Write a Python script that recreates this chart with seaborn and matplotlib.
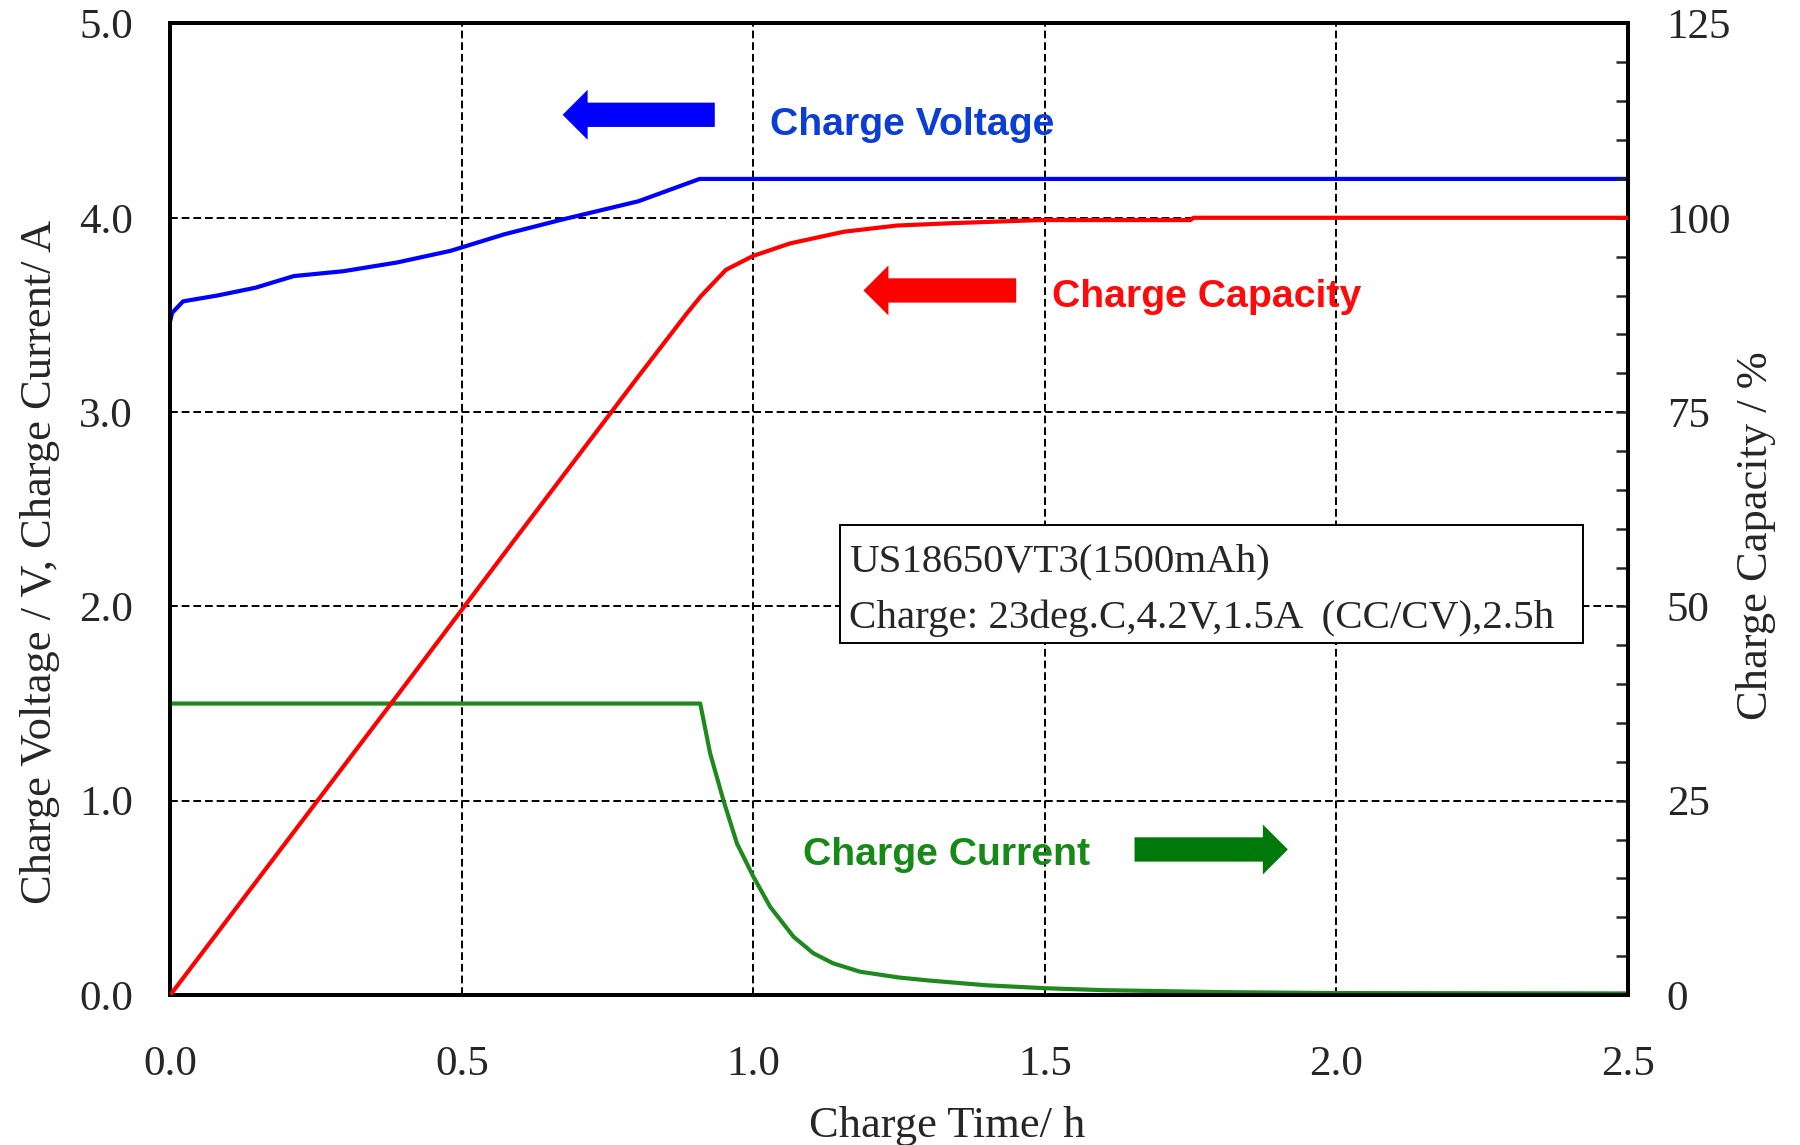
import matplotlib
matplotlib.use("Agg")
import matplotlib.pyplot as plt
import seaborn as sns
from matplotlib.patches import Rectangle
from matplotlib.ticker import MultipleLocator

# charge voltage (V) vs time (h)
volt_t = [0.0, 0.003, 0.022, 0.081, 0.146, 0.212, 0.297, 0.389, 0.481, 0.573, 0.671, 0.803, 0.908, 2.5]
volt_v = [3.47, 3.51, 3.57, 3.60, 3.64, 3.70, 3.725, 3.77, 3.83, 3.915, 3.99, 4.085, 4.20, 4.20]

# charge current (A) vs time (h)
curr_t = [0.0, 0.909, 0.926, 0.949, 0.972, 1.0, 1.029, 1.069, 1.103, 1.137, 1.183, 1.25,
          1.3, 1.4, 1.5, 1.6, 1.8, 2.0, 2.5]
curr_a = [1.5, 1.5, 1.244, 1.0, 0.78, 0.61, 0.454, 0.30, 0.215, 0.163, 0.12, 0.09,
          0.075, 0.05, 0.035, 0.025, 0.015, 0.01, 0.008]

# charge capacity (%) vs time (h)
cap_t = [0.0, 0.2, 0.4, 0.6, 0.8, 0.885, 0.91, 0.953, 1.0, 1.063, 1.155, 1.246, 1.339,
         1.49, 1.75, 1.755, 2.5]
cap_p = [0.0, 19.8, 39.6, 59.5, 79.3, 87.6, 89.9, 93.3, 95.1, 96.7, 98.2, 99.0, 99.3,
         99.7, 99.7, 100.0, 100.0]

x_ticks = [0.0, 0.5, 1.0, 1.5, 2.0, 2.5]
left_ticks = [0.0, 1.0, 2.0, 3.0, 4.0, 5.0]
right_ticks = [0, 25, 50, 75, 100, 125]

sns.set_style("white")
plt.rcParams['font.family'] = ['Liberation Serif', 'DejaVu Serif']

fig = plt.figure(figsize=(18, 11.45), dpi=100)
ax = fig.add_axes([0.0946, 0.1310, 0.8097, 0.8485])
ax2 = ax.twinx()

blue = '#0000FF'
red = '#FF0000'
green = '#1E8A1E'

sns.lineplot(x=volt_t, y=volt_v, ax=ax, color=blue, linewidth=3.0, zorder=4)
sns.lineplot(x=curr_t, y=curr_a, ax=ax, color=green, linewidth=3.0, zorder=4, clip_on=False)
sns.lineplot(x=cap_t, y=cap_p, ax=ax2, color=red, linewidth=3.0, zorder=4)

ax.set_xlim(0, 2.5)
ax.set_ylim(0, 5)
ax2.set_ylim(0, 125)

ax.set_xticks(x_ticks)
ax.set_xticklabels([f"{v:.1f}" for v in x_ticks])
ax.xaxis.set_minor_locator(MultipleLocator(0.1))
ax.set_yticks(left_ticks)
ax.set_yticklabels([f"{v:.1f}" for v in left_ticks])
ax2.set_yticks(right_ticks)
ax2.set_yticklabels([str(v) for v in right_ticks])
ax2.yaxis.set_minor_locator(MultipleLocator(5))

ax.tick_params(axis='x', which='both', direction='in', length=8, width=1.8,
               labelsize=31, pad=36, top=False)
ax.tick_params(axis='y', which='both', length=0, labelsize=31, pad=27)
ax2.tick_params(axis='y', which='both', direction='in', length=9, width=1.8,
                labelsize=31, pad=28)

ax.grid(True, which='major', color='black', linestyle=(0, (4, 2)), linewidth=1.4)
ax.set_axisbelow(True)
for a in (ax, ax2):
    for s in a.spines.values():
        s.set_linewidth(2.8)
        s.set_color('black')

ax.set_xlabel('')
ax.set_ylabel('')
ax2.set_ylabel('')

fig.text(0.022, 0.509, 'Charge Voltage / V, Charge Current/ A', rotation=90,
         ha='center', va='center', fontsize=32)
fig.text(0.9756, 0.532, 'Charge Capacity / %', rotation=90,
         ha='center', va='center', fontsize=32)
fig.text(0.526, 0.007, 'Charge Time/ h', ha='center', va='baseline', fontsize=32)

# info box
ax.add_patch(Rectangle((1.149, 1.813), 2.423 - 1.149, 2.419 - 1.813, facecolor='white',
                       edgecolor='black', linewidth=1.4, zorder=3))
ax.text(1.165, 2.179, 'US18650VT3(1500mAh)', fontsize=29.5, va='baseline', zorder=5)
ax.text(1.165, 1.887, 'Charge: 23deg.C,4.2V,1.5A  (CC/CV),2.5h', fontsize=29.5,
        va='baseline', zorder=5)

# series labels and arrows
sans = ['Liberation Sans', 'DejaVu Sans']
ax.text(1.029, 4.426, 'Charge Voltage', color='#0A3ED4', fontsize=28.3, fontweight='bold',
        family=sans, va='baseline', zorder=5)
ax.text(1.512, 3.542, 'Charge Capacity', color='#FF0A0A', fontsize=28.3, fontweight='bold',
        family=sans, va='baseline', zorder=5)
ax.text(1.085, 0.669, 'Charge Current', color='#168A16', fontsize=28.3, fontweight='bold',
        family=sans, va='baseline', zorder=5)

arrow_style = 'simple,head_width=3.6,head_length=1.8,tail_width=1.75'
ax.annotate('', xy=(0.673, 4.53), xytext=(0.934, 4.53),
            arrowprops=dict(arrowstyle=arrow_style, color=blue, mutation_scale=10,
                            shrinkA=0, shrinkB=0, lw=0), zorder=5)
ax.annotate('', xy=(1.189, 3.626), xytext=(1.451, 3.626),
            arrowprops=dict(arrowstyle=arrow_style, color=red, mutation_scale=10,
                            shrinkA=0, shrinkB=0, lw=0), zorder=5)
ax.annotate('', xy=(1.917, 0.749), xytext=(1.654, 0.749),
            arrowprops=dict(arrowstyle=arrow_style, color='#00780A', mutation_scale=10,
                            shrinkA=0, shrinkB=0, lw=0), zorder=5)

fig.savefig('out.png', dpi=100)
